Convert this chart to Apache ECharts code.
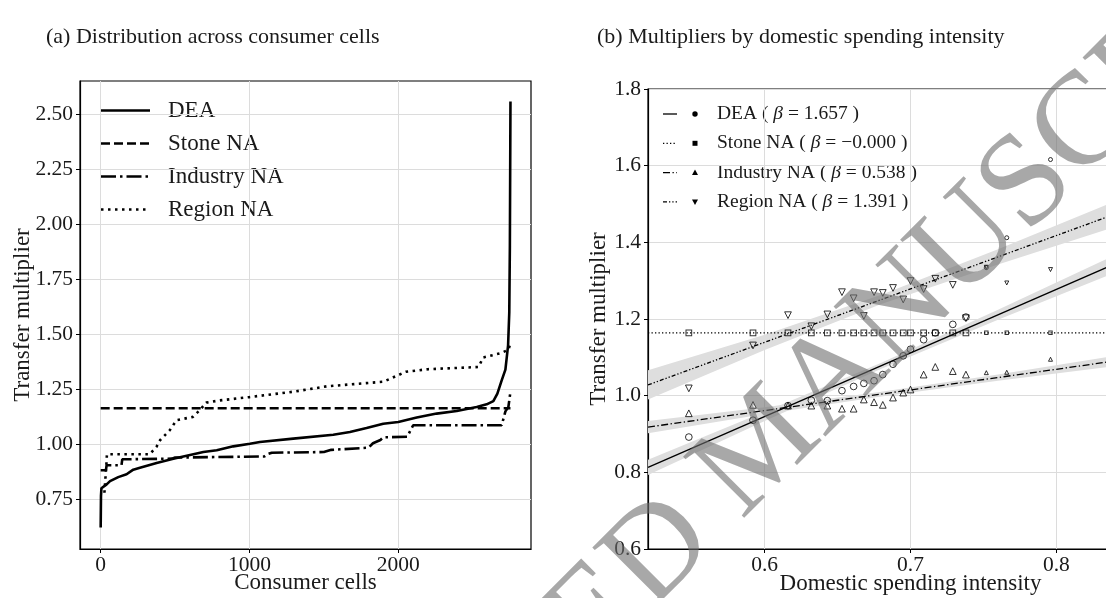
<!DOCTYPE html>
<html><head><meta charset="utf-8">
<script src="https://cdn.jsdelivr.net/npm/echarts@6/dist/echarts.min.js"></script>
<style>html,body{margin:0;padding:0;background:#fff}#c{width:1106px;height:598px}</style>
</head><body><div id="c"></div>
<script>
// ---------- Panel (a): sorted transfer multipliers across consumer cells ----------
const deaCurve = [[0,0.622],[2,0.766],[5,0.80],[14,0.808],[40,0.818],[63,0.833],[118,0.851],[174,0.864],[219,0.885],[264,0.894],[376,0.915],[488,0.935],[623,0.955],[690,0.965],[780,0.973],[891,0.991],[1003,1.003],[1070,1.011],[1294,1.026],[1563,1.044],[1675,1.056],[1787,1.074],[1899,1.094],[2000,1.102],[2124,1.122],[2258,1.140],[2393,1.152],[2527,1.170],[2594,1.182],[2639,1.197],[2666,1.231],[2695,1.291],[2720,1.34],[2738,1.45],[2746,1.6],[2750,1.9],[2754,2.56]];
const stoneCurve = [[0,1.164],[2754,1.164]];
const industryCurve = [[0,0.882],[35,0.882],[40,0.905],[140,0.905],[145,0.932],[480,0.935],[500,0.94],[1100,0.945],[1120,0.955],[1150,0.962],[1500,0.965],[1550,0.975],[1800,0.985],[1830,1.005],[1880,1.02],[1900,1.032],[2060,1.035],[2100,1.087],[2695,1.087],[2720,1.15],[2740,1.17],[2754,1.24]];
const regionCurve = [[25,0.78],[38,0.905],[42,0.955],[330,0.955],[376,0.99],[400,1.02],[465,1.065],[510,1.11],[620,1.125],[665,1.155],[710,1.19],[800,1.2],[1000,1.215],[1300,1.24],[1520,1.264],[1900,1.285],[1950,1.3],[2000,1.315],[2050,1.33],[2200,1.342],[2540,1.352],[2570,1.395],[2690,1.415],[2740,1.43],[2754,1.46]];
const leftXTicks = [0, 1000, 2000];
const leftYTicks = [0.75, 1.00, 1.25, 1.50, 1.75, 2.00, 2.25, 2.50];
const leftNames = ['DEA', 'Stone NA', 'Industry NA', 'Region NA'];

// ---------- Panel (b): binned means by domestic spending intensity ----------
const binX = [0.548,0.592,0.616,0.632,0.643,0.653,0.661,0.668,0.675,0.681,0.688,0.695,0.700,0.709,0.717,0.729,0.738,0.752,0.766,0.796];
const binCellCounts = [100,100,100,100,100,100,100,100,100,100,100,100,100,100,100,100,100,40,40,40];
const deaMean = [0.892,0.936,0.974,0.988,0.987,1.013,1.024,1.032,1.039,1.055,1.082,1.104,1.121,1.146,1.164,1.186,1.205,1.334,1.412,1.616];
const stoneMean = [1.164,1.164,1.164,1.164,1.164,1.164,1.164,1.164,1.164,1.164,1.164,1.164,1.164,1.164,1.164,1.164,1.164,1.164,1.164,1.164];
const industryMean = [0.954,0.976,0.974,0.974,0.974,0.966,0.966,0.990,0.983,0.976,0.995,1.008,1.016,1.055,1.075,1.064,1.055,1.060,1.061,1.095];
const regionMean = [1.019,1.131,1.210,1.181,1.212,1.270,1.254,1.208,1.270,1.268,1.281,1.251,1.299,1.278,1.305,1.289,1.202,1.335,1.294,1.329];
// fitted lines (end points) and confidence bands
const fitX = [0.52, 0.88];
const deaFit = [0.813, 1.410];
const stoneFit = [1.164, 1.164];
const industryFit = [0.918, 1.112];
const regionFit = [1.028, 1.529];
const bandX = [0.52, 0.60, 0.68, 0.76, 0.88];
const deaLo = [0.793, 0.934, 1.070, 1.198, 1.382];
const deaHi = [0.833, 0.958, 1.086, 1.224, 1.438];
const industryLo = [0.902, 0.952, 0.998, 1.039, 1.096];
const industryHi = [0.934, 0.970, 1.010, 1.055, 1.128];
const regionLo = [0.990, 1.119, 1.239, 1.342, 1.489];
const regionHi = [1.066, 1.159, 1.263, 1.382, 1.569];
const betas = ['1.657', '\u22120.000', '0.538', '1.391'];
const rightXTicks = [0.6, 0.7, 0.8];
const rightYTicks = [0.6, 0.8, 1.0, 1.2, 1.4, 1.6, 1.8];

const FONT = 'Liberation Serif';
const TXT = '#1a1a1a';
const GRIDC = '#dcdcdc';

function axisCommon(ticks, fmt, isX) {
  return {
    axisLine: { show: true, onZero: false, lineStyle: { color: '#000', width: 1.2 } },
    axisTick: { show: true, customValues: ticks, length: 4, lineStyle: { color: '#000' } },
    axisLabel: { customValues: ticks, formatter: fmt, color: TXT, fontFamily: FONT, fontSize: 21.5, margin: isX ? 5 : 7 },
    splitLine: { show: true, lineStyle: { color: GRIDC, width: 1 } },
    nameTextStyle: { color: TXT, fontFamily: FONT, fontSize: 23 },
    nameLocation: 'middle',
    nameMoveOverlap: false
  };
}

const pairs = (xs, ys) => xs.map((x, i) => [x, ys[i]]);
const sizeOf = c => 2.2 + c * 0.045;

function band(lo, hi) {
  return {
    type: 'custom', xAxisIndex: 1, yAxisIndex: 1, z: 1, silent: true, clip: true,
    data: bandX.map((x, i) => [x, lo[i], hi[i]]),
    renderItem: function (params, api) {
      if (params.dataIndex !== 0) return null;
      const top = bandX.map((x, i) => api.coord([x, hi[i]]));
      const bot = bandX.map((x, i) => api.coord([x, lo[i]])).reverse();
      return { type: 'polygon', shape: { points: top.concat(bot) }, style: { fill: '#dedede' } };
    }
  };
}
function fitLine(ys, dash, w) {
  return { type: 'line', xAxisIndex: 1, yAxisIndex: 1, data: pairs(fitX, ys), showSymbol: false, z: 3, silent: true,
    lineStyle: { color: '#000', width: w || 1.3, type: dash, cap: 'butt' } };
}
function pts(ys, symbol, rot, scale) {
  return { type: 'scatter', xAxisIndex: 1, yAxisIndex: 1, z: 4, silent: true,
    data: binX.map((x, i) => [x, ys[i], binCellCounts[i]]),
    symbol: symbol, symbolRotate: rot || 0,
    symbolSize: v => sizeOf(v[2]) * (scale || 1),
    itemStyle: { color: 'rgba(0,0,0,0)', borderColor: '#000', borderWidth: 1 } };
}

const leftDash = ['solid', [9, 4], [15, 4, 2.5, 4], [2.5, 4.5]];
const leftCurves = [deaCurve, stoneCurve, industryCurve, regionCurve];
const leftSeries = leftCurves.map((d, i) => ({
  type: 'line', name: leftNames[i], xAxisIndex: 0, yAxisIndex: 0, data: d, showSymbol: false, silent: true,
  z: i === 0 ? 6 : 5, lineStyle: { color: '#000', width: 2.6, type: leftDash[i], cap: 'butt' }
}));

// graphics: titles, legends, watermark
const graphic = [];
graphic.push({ type: 'text', left: 46, top: 26, style: { text: '(a) Distribution across consumer cells', font: '22px "' + FONT + '"', fill: TXT } });
graphic.push({ type: 'text', left: 597, top: 26, style: { text: '(b) Multipliers by domestic spending intensity', font: '22px "' + FONT + '"', fill: TXT } });
leftNames.forEach((n, i) => {
  const y = 110.5 + i * 33;
  const d = leftDash[i];
  graphic.push({ type: 'line', shape: { x1: 101, y1: y, x2: 150, y2: y }, style: { stroke: '#000', lineWidth: 2.6, lineDash: d === 'solid' ? null : d } });
  graphic.push({ type: 'text', x: 168, y: y, style: { text: n, font: '23px "' + FONT + '"', fill: TXT, textVerticalAlign: 'middle' } });
});
const rightNames = ['DEA', 'Stone NA', 'Industry NA', 'Region NA'];
const rightDash = [null, [1.3, 2.2], [7, 2.5, 1.3, 2.5], [4, 2, 1.3, 2, 1.3, 2]];
rightNames.forEach((n, i) => {
  const y = 114 + i * 29.3;
  graphic.push({ type: 'line', shape: { x1: 663, y1: y, x2: 677, y2: y }, style: { stroke: '#000', lineWidth: 1.3, lineDash: rightDash[i] } });
  let mk;
  if (i === 0) mk = { type: 'circle', shape: { cx: 695, cy: y, r: 2.7 } };
  else if (i === 1) mk = { type: 'rect', shape: { x: 692.5, y: y - 2.5, width: 5, height: 5 } };
  else if (i === 2) mk = { type: 'polygon', shape: { points: [[695, y - 3], [692, y + 2.3], [698, y + 2.3]] } };
  else mk = { type: 'polygon', shape: { points: [[695, y + 3], [692, y - 2.3], [698, y - 2.3]] } };
  mk.style = { fill: '#000' };
  graphic.push(mk);
  graphic.push({ type: 'text', x: 717, y: y, style: {
    text: n + ' ( {b|\u03b2} = ' + betas[i] + ' )',
    rich: { b: { fontStyle: 'italic', fontFamily: FONT, fontSize: 19.5, fill: TXT } },
    font: '19.5px "' + FONT + '"', fill: TXT, textVerticalAlign: 'middle' } });
});
graphic.push({ type: 'text', x: 765, y: 448, rotation: Math.PI / 4, z: 100, silent: true,
  style: { text: 'ACCEPTED MANUSCRIPT', font: '132px "' + FONT + '"', fill: 'rgba(110,110,110,0.6)', textAlign: 'center', textVerticalAlign: 'middle' } });

const option = {
  animation: false,
  backgroundColor: '#fff',
  grid: [
    { left: 80, top: 81, width: 451, height: 468, show: true, borderColor: '#000', borderWidth: 1.2, backgroundColor: 'transparent', outerBoundsMode: 'none', containLabel: false },
    { left: 648, top: 89, width: 525, height: 460, show: true, borderColor: '#000', borderWidth: 1.2, backgroundColor: 'transparent', outerBoundsMode: 'none', containLabel: false }
  ],
  xAxis: [
    Object.assign(axisCommon(leftXTicks, v => String(v), true), { type: 'value', gridIndex: 0, min: -139, max: 2892, name: 'Consumer cells', nameGap: 22 }),
    Object.assign(axisCommon(rightXTicks, v => v.toFixed(1), true), { type: 'value', gridIndex: 1, min: 0.52, max: 0.88, name: 'Domestic spending intensity', nameGap: 23 })
  ],
  yAxis: [
    Object.assign(axisCommon(leftYTicks, v => v.toFixed(2), false), { type: 'value', gridIndex: 0, min: 0.524, max: 2.653, name: 'Transfer multiplier', nameGap: 46 }),
    Object.assign(axisCommon(rightYTicks, v => v.toFixed(1), false), { type: 'value', gridIndex: 1, min: 0.6, max: 1.8, name: 'Transfer multiplier', nameGap: 38 })
  ],
  series: leftSeries.concat([
    band(deaLo, deaHi), band(industryLo, industryHi), band(regionLo, regionHi),
    fitLine(deaFit, 'solid'), fitLine(stoneFit, [1.3, 2.2]), fitLine(industryFit, [7, 2.5, 1.3, 2.5]), fitLine(regionFit, [4, 2, 1.3, 2, 1.3, 2]),
    pts(deaMean, 'circle'), pts(stoneMean, 'rect', 0, 0.85), pts(industryMean, 'triangle'), pts(regionMean, 'triangle', 180)
  ]),
  graphic: graphic
};
const chart = echarts.init(document.getElementById('c'), null, { renderer: 'canvas' });
chart.setOption(option);
</script></body></html>
